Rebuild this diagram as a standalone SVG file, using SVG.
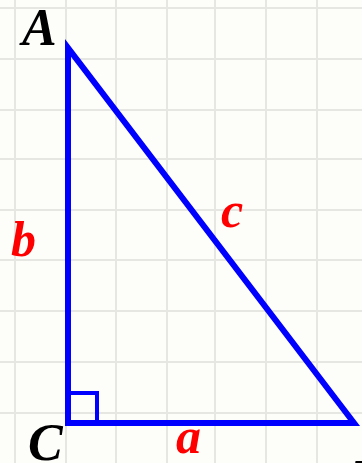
<svg xmlns="http://www.w3.org/2000/svg" width="362" height="463" viewBox="0 0 362 463">
<style>
.grid line{stroke:#e6e6e2;stroke-width:2}
.lbl{font-family:"Liberation Serif","Times New Roman",serif;font-style:italic;font-weight:bold}
.pt{fill:#000;font-size:52px}
.sd{fill:#ff0000;font-size:50px}
.edge{fill:none;stroke:#0000ff;stroke-linejoin:miter;stroke-miterlimit:10}
</style>
<rect width="362" height="463" fill="#fdfdfa"/>
<g class="grid">
<line x1="15" y1="0" x2="15" y2="463"/>
<line x1="66" y1="0" x2="66" y2="463"/>
<line x1="116" y1="0" x2="116" y2="463"/>
<line x1="167" y1="0" x2="167" y2="463"/>
<line x1="215" y1="0" x2="215" y2="463"/>
<line x1="266" y1="0" x2="266" y2="463"/>
<line x1="317" y1="0" x2="317" y2="463"/>
<line x1="0" y1="8" x2="362" y2="8"/>
<line x1="0" y1="59" x2="362" y2="59"/>
<line x1="0" y1="110" x2="362" y2="110"/>
<line x1="0" y1="159" x2="362" y2="159"/>
<line x1="0" y1="210" x2="362" y2="210"/>
<line x1="0" y1="260" x2="362" y2="260"/>
<line x1="0" y1="311" x2="362" y2="311"/>
<line x1="0" y1="362" x2="362" y2="362"/>
<line x1="0" y1="413" x2="362" y2="413"/>
</g>
<g id="connectors">
<polygon id="triangle" class="edge" stroke-width="6" points="68,48 68,423 354,423"/>
<path id="right-angle" class="edge" stroke-width="4" d="M68,393 H97 V423"/>
</g>
<g id="A"><text class="lbl pt" x="22" y="45">A</text></g>
<g id="C"><text class="lbl pt" x="28" y="460">C</text></g>
<g id="B"><text class="lbl pt" x="350" y="496">B</text></g>
<g id="b"><text class="lbl sd" x="11" y="256">b</text></g>
<g id="c"><text class="lbl sd" x="221" y="227">c</text></g>
<g id="a"><text class="lbl sd" x="176" y="453">a</text></g>
</svg>
